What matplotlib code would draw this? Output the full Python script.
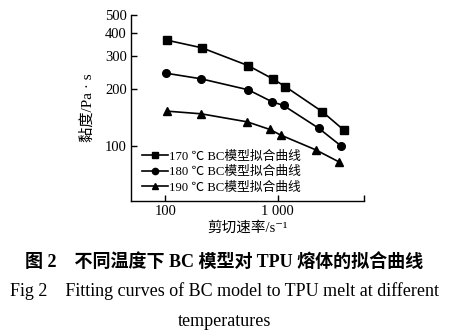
import matplotlib
matplotlib.use("Agg")
import matplotlib.pyplot as plt
from matplotlib.ticker import FixedLocator, NullFormatter

plt.rcParams['font.family'] = ['Liberation Serif', 'Noto Sans CJK SC', 'DejaVu Serif']

# shear rate (s^-1) and viscosity (Pa·s)
rate_170 = [103, 211, 548, 903, 1172, 2502, 3900]
visc_170 = [367, 334, 268, 228, 207, 152, 121]
rate_180 = [102, 207, 548, 888, 1130, 2321, 3650]
visc_180 = [244, 228, 199, 172, 164, 124, 100]
rate_190 = [103, 209, 538, 855, 1064, 2183, 3500]
visc_190 = [153, 148, 134, 122, 114, 95, 82]

labels = ['170 ℃ BC模型拟合曲线', '180 ℃ BC模型拟合曲线', '190 ℃ BC模型拟合曲线']
markers = ['s', 'o', '^']
yticks = [100, 200, 300, 400, 500]
xticks = [100, 1000]
xtick_labels = ['100', '1 000']

fig = plt.figure(figsize=(4.58, 3.34), dpi=100)
ax = fig.add_axes([0.286, 0.398, 0.509, 0.557])

for xs, ys, lab, m in zip([rate_170, rate_180, rate_190],
                          [visc_170, visc_180, visc_190], labels, markers):
    ax.plot(xs, ys, color='black', lw=1.2, marker=m, ms=5.5, label=lab)

ax.set_xscale('log')
ax.set_yscale('log')
ax.set_xlim(49.5, 5900)
ax.set_ylim(50.5, 500)

ax.yaxis.set_major_locator(FixedLocator(yticks))
ax.set_yticklabels([str(v) for v in yticks])
ax.yaxis.set_minor_locator(FixedLocator([]))
ax.yaxis.set_minor_formatter(NullFormatter())
ax.xaxis.set_major_locator(FixedLocator(xticks + [5900]))
ax.set_xticklabels(xtick_labels + [''])
ax.xaxis.set_minor_locator(FixedLocator([]))
ax.xaxis.set_minor_formatter(NullFormatter())

ax.tick_params(direction='in', length=4, width=1, labelsize=10.5, pad=3)
ax.spines['top'].set_visible(False)
ax.spines['right'].set_visible(False)
for s in ['left', 'bottom']:
    ax.spines[s].set_linewidth(1.0)

ax.set_ylabel('黏度/Pa · s', fontsize=11, labelpad=7)
ax.set_xlabel('剪切速率/s⁻¹', fontsize=10.5, labelpad=2)

leg = ax.legend(loc='lower left', frameon=False, fontsize=9.2, handlelength=2.0,
                handletextpad=0.1, labelspacing=0.25, borderaxespad=0.0,
                bbox_to_anchor=(0.027, 0.013))
for h in leg.legend_handles:
    h.set_markersize(4.5)

fig.text(0.49, 0.217, '图 2    不同温度下 BC 模型对 TPU 熔体的拟合曲线',
         ha='center', va='center', fontsize=13, fontweight='bold')
fig.text(0.49, 0.128, 'Fig 2    Fitting curves of BC model to TPU melt at different',
         ha='center', va='center', fontsize=13)
fig.text(0.49, 0.038, 'temperatures', ha='center', va='center', fontsize=13)

fig.savefig('out.png', dpi=100)
